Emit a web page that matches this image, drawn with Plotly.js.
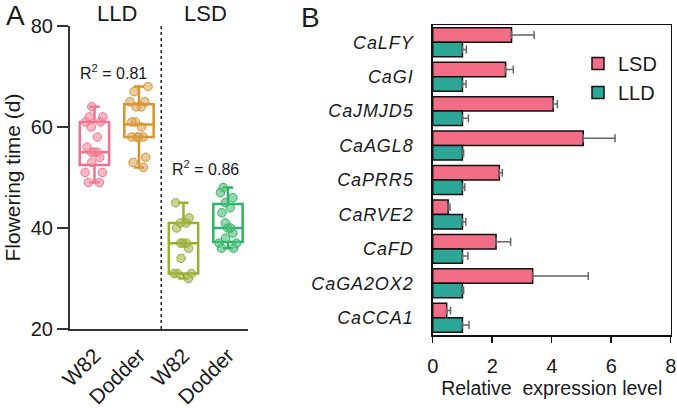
<!DOCTYPE html>
<html>
<head>
<meta charset="utf-8">
<script src="https://cdn.plot.ly/plotly-3.0.1.min.js"></script>
<style>
html,body{margin:0;padding:0;background:#fff;}
#chart{width:677px;height:408px;}
.y2tick text{letter-spacing:0.9px;}
</style>
</head>
<body>
<div id="chart"></div>
<script>
// ---------- Panel A data (flowering time, days) ----------
const groupTicks = ['W82', 'Dodder', 'W82', 'Dodder'];
const w82LLD    = [64, 62, 62, 61, 61, 60, 58, 56, 55, 55, 55, 54, 53, 51, 51, 49, 49];
const dodderLLD = [68, 67, 65, 65, 64, 64, 61, 61, 60, 58, 58, 58, 58, 54, 53, 52];
const w82LSD    = [45, 42, 41, 41, 40, 37, 37, 37, 36, 34, 31, 31, 31, 30];
const dodderLSD = [48, 47, 46, 45, 44, 43, 41, 40, 40, 39, 38, 37, 37, 36, 36];
const photoperiodLabels = ['LLD', 'LSD'];
const r2Labels = ['R<sup>2</sup> = 0.81', 'R<sup>2</sup> = 0.86'];

// ---------- Panel B data (relative expression) ----------
const genes  = ['CaLFY', 'CaGI', 'CaJMJD5', 'CaAGL8', 'CaPRR5', 'CaRVE2', 'CaFD', 'CaGA2OX2', 'CaCCA1'];
const lsd    = [2.65, 2.45, 4.05, 5.06, 2.24, 0.52, 2.13, 3.36, 0.47];
const lsdErr = [0.76, 0.26, 0.14, 1.07, 0.10, 0.06, 0.49, 1.87, 0.13];
const lld    = [1.0, 1.0, 1.0, 1.0, 1.0, 1.0, 1.0, 1.0, 1.0];
const lldErr = [0.13, 0.12, 0.20, 0.04, 0.08, 0.11, 0.18, 0.04, 0.22];

const FONT = 'Liberation Sans, Arial, sans-serif';
const boxSeries = [
  {y: w82LLD,    idx: 0, line: '#F5708C', fill: 'rgba(245,130,150,0.55)'},
  {y: dodderLLD, idx: 1, line: '#D8932B', fill: 'rgba(216,160,80,0.55)'},
  {y: w82LSD,    idx: 2, line: '#9BAE2E', fill: 'rgba(160,180,80,0.6)'},
  {y: dodderLSD, idx: 3, line: '#2DB566', fill: 'rgba(80,190,120,0.6)'}
];

const traces = boxSeries.map(s => ({
  type: 'box',
  x: s.y.map(() => s.idx),
  y: s.y,
  xaxis: 'x', yaxis: 'y',
  boxpoints: 'all', jitter: 0.75, pointpos: 0,
  width: 0.66, whiskerwidth: 0.35,
  line: {color: s.line, width: 2.5},
  fillcolor: 'rgba(255,255,255,0)',
  marker: {color: s.fill, size: 8.5, line: {color: s.line, width: 1}},
  showlegend: false, hoverinfo: 'y'
}));

traces.push({
  type: 'bar', orientation: 'h', name: 'LSD',
  y: genes, x: lsd, xaxis: 'x2', yaxis: 'y2',
  marker: {color: '#F36D86', line: {color: '#111', width: 1.5}},
  error_x: {type: 'data', symmetric: false, array: lsdErr, arrayminus: lsd.map(() => 0), color: '#666', thickness: 1.5, width: 4}
});
traces.push({
  type: 'bar', orientation: 'h', name: 'LLD',
  y: genes, x: lld, xaxis: 'x2', yaxis: 'y2',
  marker: {color: '#2BA697', line: {color: '#111', width: 1.5}},
  error_x: {type: 'data', symmetric: false, array: lldErr, arrayminus: lld.map(() => 0), color: '#666', thickness: 1.5, width: 4}
});

const W = 677, H = 408;
const px = v => v / W, py = v => 1 - v / H;

const layout = {
  width: W, height: H,
  margin: {l: 0, r: 0, t: 0, b: 0},
  paper_bgcolor: '#fff', plot_bgcolor: 'rgba(0,0,0,0)',
  font: {family: FONT, color: '#1a1a1a'},
  barmode: 'group', bargap: 0.16, bargroupgap: 0,
  xaxis: {
    domain: [px(70), px(248)], anchor: 'y',
    range: [-0.55, 3.45], tickvals: [0, 1, 2, 3], ticktext: groupTicks,
    tickangle: -45, tickfont: {size: 21, color: '#1a1a1a'}, ticklabelstandoff: 4,
    showline: true, linecolor: '#333', linewidth: 2, ticks: '',
    showgrid: false, zeroline: false, fixedrange: true
  },
  yaxis: {
    domain: [py(329), py(26)], anchor: 'x',
    range: [20, 80], tickvals: [20, 40, 60, 80],
    ticks: 'outside', ticklen: 11, tickwidth: 2, tickcolor: '#333',
    tickfont: {size: 20, color: '#1a1a1a'},
    showline: true, linecolor: '#333', linewidth: 2,
    showgrid: false, zeroline: false,
    title: {text: 'Flowering time (d)', font: {size: 21, color: '#1a1a1a'}, standoff: 4}
  },
  xaxis2: {
    domain: [px(432.7), px(670.7)], anchor: 'y2',
    range: [0, 8], tickvals: [0, 2, 4, 6, 8],
    ticks: 'outside', ticklen: 6, tickwidth: 1.5, tickcolor: '#111',
    tickfont: {size: 20, color: '#1a1a1a'}, ticklabelstandoff: 6,
    showline: true, mirror: true, linecolor: '#111', linewidth: 1.5,
    showgrid: false, zeroline: false,
    title: {text: 'Relative&nbsp; expression level', font: {size: 19.5, color: '#1a1a1a'}, standoff: 6}
  },
  yaxis2: {
    domain: [py(335), py(25)], anchor: 'x2',
    autorange: 'reversed', ticks: '', ticklabelstandoff: 14,
    tickfont: {size: 18, style: 'italic', color: '#1a1a1a'},
    showline: true, mirror: true, linecolor: '#111', linewidth: 1.5,
    showgrid: false, zeroline: false
  },
  legend: {
    x: px(578), y: py(44), xanchor: 'left', yanchor: 'top',
    font: {size: 20, color: '#1a1a1a'}, bgcolor: 'rgba(0,0,0,0)',
    traceorder: 'normal', itemwidth: 30, tracegroupgap: 0
  },
  shapes: [{
    type: 'line', xref: 'x', yref: 'y domain', x0: 1.5, x1: 1.5, y0: 0, y1: 1,
    line: {color: '#222', width: 1.5, dash: 'dot'}
  }],
  annotations: [
    {text: photoperiodLabels[0], xref: 'x', yref: 'paper', x: 0.5, y: py(13), xanchor: 'center', yanchor: 'middle', showarrow: false, font: {size: 22}},
    {text: photoperiodLabels[1], xref: 'x', yref: 'paper', x: 2.5, y: py(13), xanchor: 'center', yanchor: 'middle', showarrow: false, font: {size: 22}},
    {text: r2Labels[0], xref: 'x', yref: 'y', x: 0.42, y: 70.9, xanchor: 'center', yanchor: 'middle', showarrow: false, font: {size: 16}},
    {text: r2Labels[1], xref: 'x', yref: 'y', x: 2.5, y: 51.9, xanchor: 'center', yanchor: 'middle', showarrow: false, font: {size: 16}},
    {text: 'A', xref: 'paper', yref: 'paper', x: px(15), y: py(16), xanchor: 'center', yanchor: 'middle', showarrow: false, font: {size: 28}},
    {text: 'B', xref: 'paper', yref: 'paper', x: px(310), y: py(18), xanchor: 'center', yanchor: 'middle', showarrow: false, font: {size: 28}}
  ]
};

Plotly.newPlot('chart', traces, layout, {displayModeBar: false, staticPlot: true});
</script>
</body>
</html>
